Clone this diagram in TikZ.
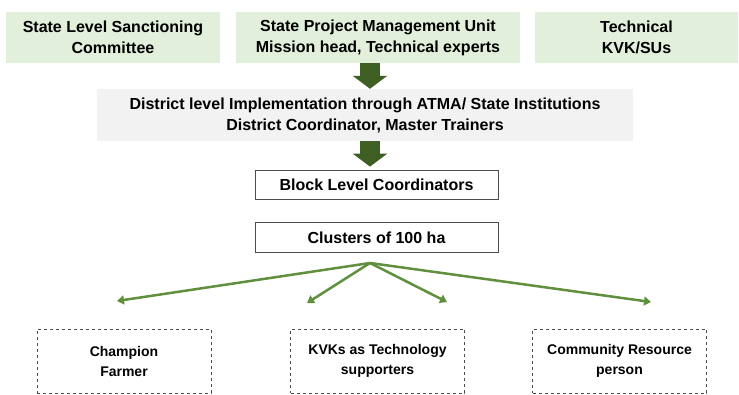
\documentclass[tikz,border=0pt]{standalone}
\usepackage{fontspec}
\setmainfont{Liberation Sans}
\usepackage{tikz}
\usetikzlibrary{arrows.meta, calc}

\definecolor{boxgreen}{RGB}{226,239,218}
\definecolor{boxgray}{RGB}{242,242,242}
\definecolor{arrowgreen}{RGB}{62,94,36}
\definecolor{fangreen}{RGB}{96,143,62}

\begin{document}
\begin{tikzpicture}[x=1pt, y=-1pt,
        topbox/.style={fill=boxgreen, inner sep=0pt, minimum height=51pt, align=center, font=\fontsize{16}{21}\selectfont\bfseries},
        greybox/.style={fill=boxgray, inner sep=0pt, minimum height=52pt, minimum width=536pt, align=center, font=\fontsize{16}{21}\selectfont\bfseries},
        levelbox/.style={draw=black!70, line width=0.8pt, inner sep=0pt, minimum width=243pt, align=center, font=\fontsize{16}{21}\selectfont\bfseries},
        dashbox/.style={draw=black!70, dashed, line width=0.8pt, inner sep=0pt, minimum width=174pt, minimum height=64pt, align=center, font=\fontsize{14}{20}\selectfont\bfseries},
        bigarrow/.style={arrowgreen, line width=20pt, -{Triangle[width=34pt, length=13pt]}},
        fanarrow/.style={fangreen, line width=2.5pt, -{Triangle[width=9pt, length=7pt]}}]
        \useasboundingbox (0,0) rectangle (739,395);
        % top row
        \node[topbox, minimum width=214pt] (slsc) at (113,37.5) {State Level Sanctioning\\Committee};
        \node[topbox, minimum width=284pt] (spmu) at (378,37.5) {State Project Management Unit\\Mission head, Technical experts};
        \node[topbox, minimum width=203pt] (tech) at (636.5,37.5) {Technical\\KVK/SUs};
        % district and block level
        \node[greybox] (district) at (365,115) {District level Implementation through ATMA/ State Institutions\\District Coordinator, Master Trainers};
        \node[levelbox, minimum height=29pt] (block) at (376.5,184.5) {Block Level Coordinators};
        \node[levelbox, minimum height=30pt] (cluster) at (376.5,237.5) {Clusters of 100 ha};
        \coordinate (apex) at (370,263);
        \draw[bigarrow] (spmu.south -| apex) -- (district.north -| apex);
        \draw[bigarrow] (district.south -| apex) -- ($(block.north -| apex)+(0,-3)$);
        % bottom row
        \node[dashbox] (champion) at (124,361) {Champion\\Farmer};
        \node[dashbox] (kvk) at (377.5,361) {KVKs as Technology\\supporters};
        \node[dashbox] (crp) at (619.5,361) {Community Resource\\person};
        \coordinate (tochampion) at (117,301);
        \coordinate (tokvkleft) at (307,303);
        \coordinate (tokvkright) at (447,302);
        \coordinate (tocrp) at (651,302);
        \foreach \t in {tochampion, tokvkleft, tokvkright, tocrp}
            \draw[fanarrow] (apex) -- (\t);
    \end{tikzpicture}
\end{document}
